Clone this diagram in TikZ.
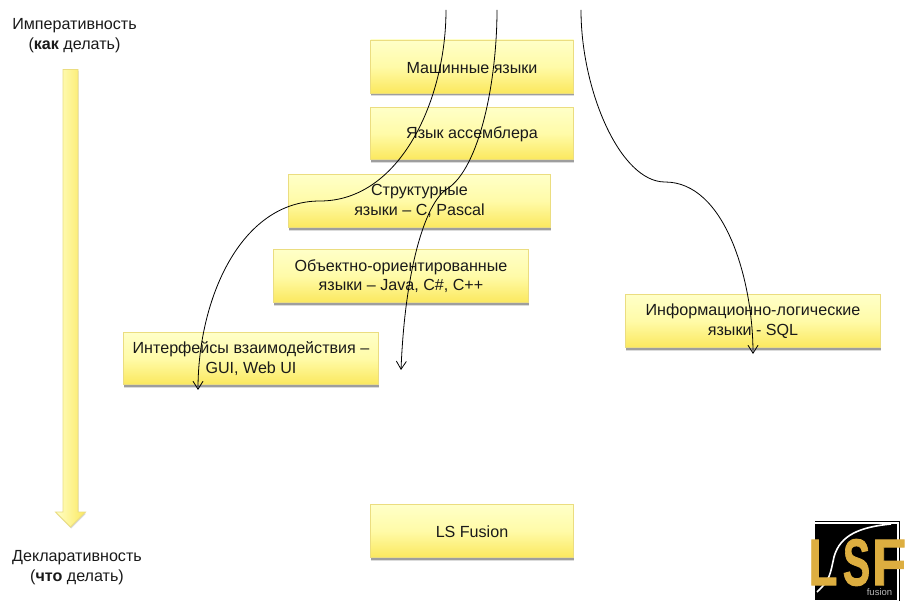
\documentclass[tikz,border=0pt]{standalone}
\usepackage{fontspec}
\setmainfont{Liberation Sans}
\newfontfamily\logofont[FakeBold=1.5]{Liberation Sans}
\usetikzlibrary{arrows.meta,shadows}
\definecolor{boxtop}{HTML}{FFFFC8}
\definecolor{boxmid}{HTML}{FFFBA8}
\definecolor{boxbot}{HTML}{FBE85E}
\definecolor{boxedge}{HTML}{EBDD80}
\definecolor{txt}{HTML}{1A1A1A}
\definecolor{gold}{HTML}{DDAE40}
\definecolor{logogrey}{HTML}{B8B8B8}
\tikzset{
  softshadow/.style={general shadow={shadow xshift=0.8pt,shadow yshift=-3.5pt,opacity=0.14,fill=black},
    general shadow={shadow xshift=0.4pt,shadow yshift=-2.2pt,opacity=0.28,fill=black}},
  langbox/.style={draw=boxedge,line width=0.8pt,top color=boxtop,bottom color=boxbot,middle color=boxmid,
    align=center,text=txt,font=\fontsize{16.1}{19.5}\selectfont,inner sep=0pt,softshadow},
  onerow/.style={langbox,execute at begin node={\rule{0pt}{13.2pt}}},
  tworow/.style={langbox,execute at begin node={\rule{0pt}{17pt}}},
  caption/.style={align=center,text=txt,font=\fontsize{16.1}{19.5}\selectfont,inner sep=0pt},
  flow/.style={draw=black,line width=0.8pt,-{Straight Barb[length=8pt,width=10pt,line width=0.8pt]}},
  logoletter/.style={inner sep=0pt,text=gold,xscale=#1,transform shape,font=\logofont\bfseries\fontsize{66}{66}\selectfont},
}
\begin{document}
\begin{tikzpicture}[x=1pt,y=-1pt]
\useasboundingbox (0,0) rectangle (911,612);
\fill[white] (0,0) rectangle (911,612);
% captions
\node[caption] (imp) at (74.5,35.5) {Императивность\\(\textbf{как} делать)};
\node[caption] (dec) at (77,567.5) {Декларативность\\(\textbf{что} делать)};
% big arrow
\path[draw=boxedge,line width=0.8pt,left color=boxtop,right color=boxbot,
  drop shadow={shadow xshift=0.6pt,shadow yshift=-1.5pt,opacity=0.25,fill=black!60}]
  (63,69.5) -- (78,69.5) -- (78,512) -- (85.5,512) -- (70.5,527) -- (55.5,512) -- (63,512) -- cycle;
% boxes
\node[onerow,minimum width=203pt,minimum height=53pt] (m) at (472,66.5) {Машинные языки};
\node[onerow,minimum width=203pt,minimum height=52pt] (a) at (472,133.5) {Язык ассемблера};
\node[tworow,minimum width=262pt,minimum height=53pt] (s) at (419.5,201) {Структурные\\языки – C, Pascal};
\node[tworow,minimum width=255pt,minimum height=53pt] (o) at (401,276) {Объектно-ориентированные\\языки – Java, C\#, C++};
\node[tworow,minimum width=255pt,minimum height=52pt] (i) at (251,358.5) {Интерфейсы взаимодействия –\\GUI, Web UI};
\node[tworow,minimum width=255pt,minimum height=53pt] (l) at (753,321) {Информационно-логические\\языки - SQL};
\node[onerow,minimum width=203pt,minimum height=53pt] (f) at (472,531) {LS Fusion};
% connectors
\coordinate (c1s) at (446,10);
\coordinate (c1m) at (320,201);
\coordinate (c1e) at (198,390);
\coordinate (c2s) at (497,10);
\coordinate (c2m) at (447,189);
\coordinate (c2e) at (401,370);
\coordinate (c3s) at (581,10);
\coordinate (c3m) at (665,182);
\coordinate (c3e) at (753,354);
\draw[flow] (c1s) .. controls (446,100) and (400,201) .. (c1m) .. controls (240,201) and (198,300) .. (c1e);
\draw[flow] (c2s) .. controls (497,80) and (480,168) .. (c2m) .. controls (425,203) and (405,270) .. (c2e);
\draw[flow] (c3s) .. controls (581,90) and (620,182) .. (c3m) .. controls (725,182) and (753,280) .. (c3e);
% logo
\draw[black,line width=0.8pt] (815,521.5) -- (899.5,521.5) -- (899.5,601);
\fill[black] (815,523.5) rectangle (897,600);
\draw[white,line width=1.6pt] (891,524) .. controls (860,527) and (840,535) .. (834,557) .. controls (830,575) and (830,580) .. (817,592);
\node[logoletter=0.72] (lsfl) at (823,562.5) {L};
\node[logoletter=0.62] (lsfs) at (856.5,562.5) {S};
\node[logoletter=0.85] (lsff) at (889,562.5) {F};
\node[inner sep=0pt,text=logogrey,font=\fontsize{9.5}{9.5}\selectfont] (fus) at (879.5,592.5) {fusion};
\end{tikzpicture}
\end{document}
